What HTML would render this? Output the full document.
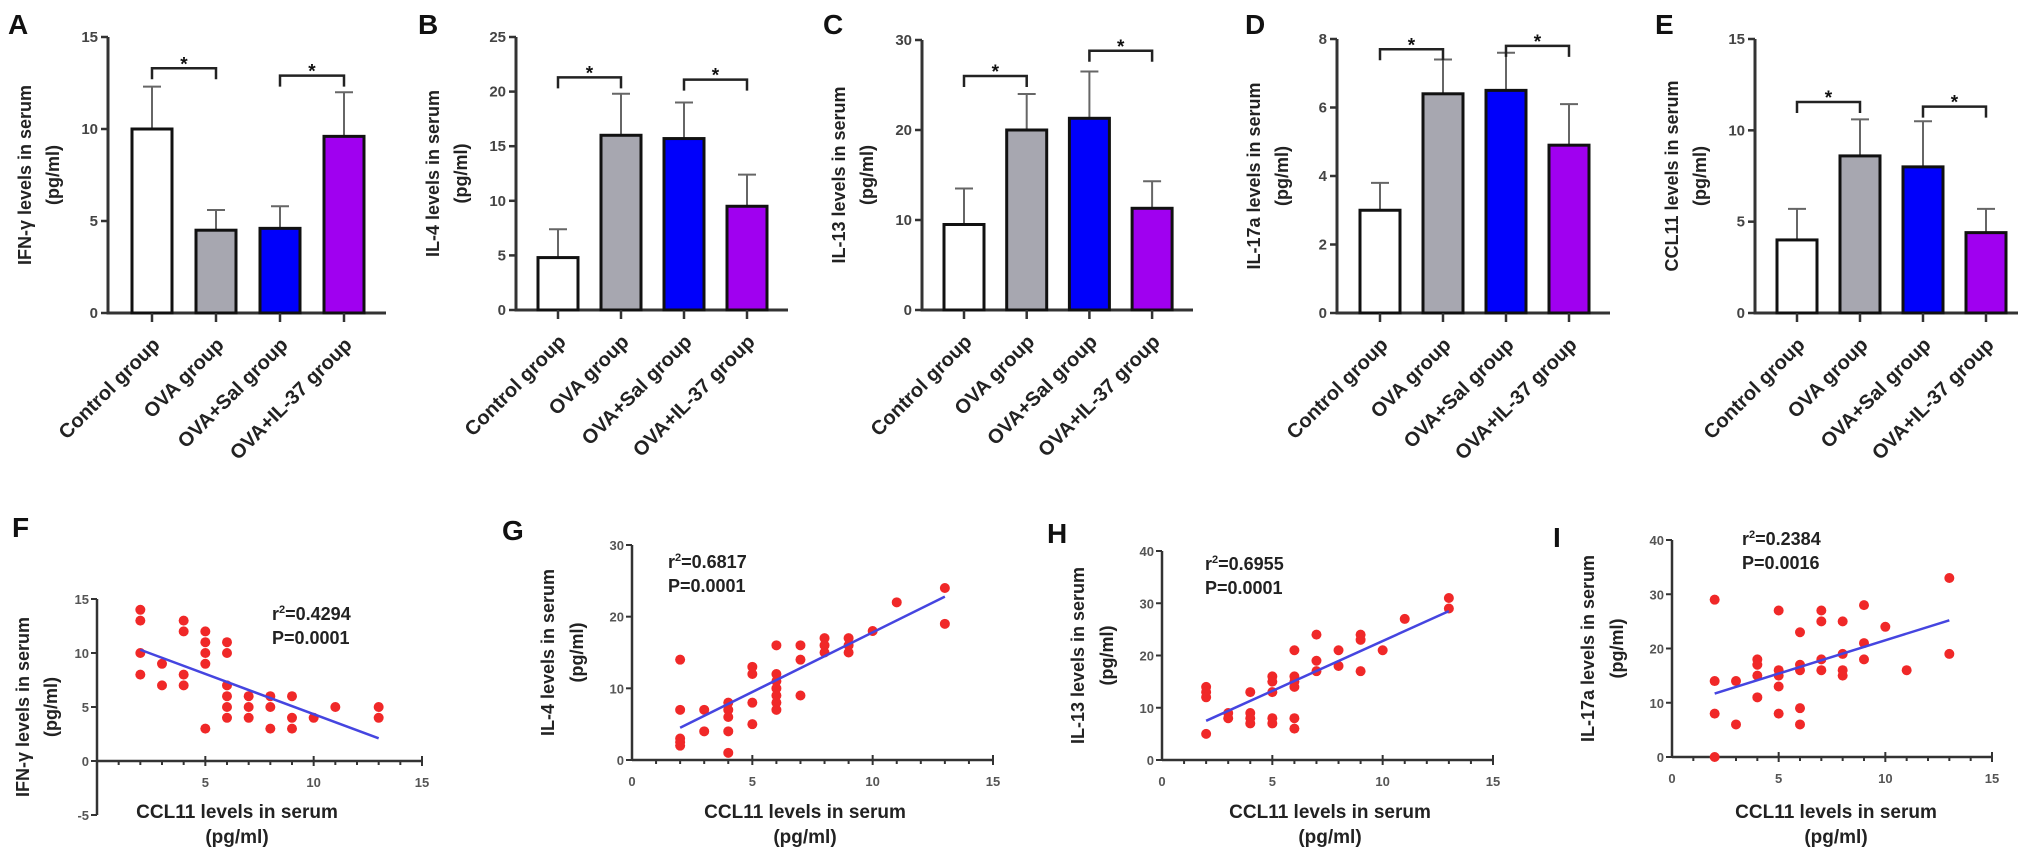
<!DOCTYPE html>
<html><head><meta charset="utf-8">
<style>
html,body{margin:0;padding:0;background:#fff;}
svg{display:block;font-family:"Liberation Sans",Arial,sans-serif;font-weight:bold;}
</style></head>
<body>
<svg id="fig" width="2031" height="863" viewBox="0 0 2031 863" xmlns="http://www.w3.org/2000/svg"></svg>
<script>
// ---------- DATA ----------
const groups = ["Control group","OVA group","OVA+Sal group","OVA+IL-37 group"];
const barColors = ["#ffffff","#a7a7b0","#0000fb","#a000f0"];
const ifnMeans = [10, 4.5, 4.6, 9.6];
const ifnErr   = [12.3, 5.6, 5.8, 12.0];
const il4Means = [4.8, 16, 15.7, 9.5];
const il4Err   = [7.4, 19.8, 19.0, 12.4];
const il13Means = [9.5, 20, 21.3, 11.3];
const il13Err   = [13.5, 24, 26.5, 14.3];
const il17Means = [3.0, 6.4, 6.5, 4.9];
const il17Err   = [3.8, 7.4, 7.6, 6.1];
const cclMeans = [4.0, 8.6, 8.0, 4.4];
const cclErr   = [5.7, 10.6, 10.5, 5.7];
const ticksA = [0,5,10,15];
const ticksB = [0,5,10,15,20,25];
const ticksC = [0,10,20,30];
const ticksD = [0,2,4,6,8];
const ticksE = [0,5,10,15];
const bracketsA = [13.3, 12.9];
const bracketsB = [21.3, 21.1];
const bracketsC = [26.0, 28.8];
const bracketsD = [7.7, 7.8];
const bracketsE = [11.55, 11.3];

const fX = [2,2,2,2,3,3,4,4,4,4,5,5,5,5,5,6,6,6,6,6,6,7,7,7,8,8,8,9,9,9,10,11,13,13];
const fY = [14,13,10,8,9,7,13,12,8,7,12,11,10,9,3,11,10,7,6,5,4,6,5,4,6,5,3,6,4,3,4,5,5,4];
const fLine = [10.3, 2.1];
const gX = [2,2,2,2,2,3,3,4,4,4,4,4,5,5,5,5,6,6,6,6,6,6,6,7,7,7,8,8,8,9,9,9,10,11,13,13];
const gY = [14,7,3,2.5,2,7,4,8,7,6,4,1,13,12,8,5,16,12,11,10,9,8,7,16,14,9,17,16,15,17,16,15,18,22,24,19];
const gLine = [4.5, 22.8];
const hX = [2,2,2,2,3,3,4,4,4,4,5,5,5,5,5,6,6,6,6,6,6,7,7,7,8,8,9,9,9,10,11,13,13];
const hY = [14,13,12,5,9,8,13,9,8,7,16,15,13,8,7,21,16,15,14,8,6,24,19,17,21,18,24,23,17,21,27,31,29];
const hLine = [7.5, 28.5];
const iX = [2,2,2,2,3,3,4,4,4,4,5,5,5,5,5,6,6,6,6,6,7,7,7,7,8,8,8,8,9,9,9,10,11,13,13];
const iY = [29,14,8,0,14,6,18,17,15,11,27,16,15,13,8,23,17,16,9,6,27,25,18,16,25,19,16,15,28,21,18,24,16,33,19];
const iLine = [11.7, 25.2];
const scatterXTicks = [0,5,10,15];
const ticksF = [-5,0,5,10,15];
const ticksG = [0,10,20,30];
const ticksH = [0,10,20,30,40];
const ticksI = [0,10,20,30,40];

// ---------- HELPERS ----------
const NS = "http://www.w3.org/2000/svg";
const svg = document.getElementById("fig");
function mk(tag, attrs, parent, text){
  const e = document.createElementNS(NS, tag);
  for (const k in attrs) e.setAttribute(k, attrs[k]);
  if (text !== undefined) e.textContent = text;
  (parent || svg).appendChild(e);
  return e;
}
const AX = "#333";

function barPanel(cfg){
  const g = mk("g", {});
  
  
  const ymax = cfg.ticks[cfg.ticks.length-1];
  const y = v => cfg.y0 - (v/ymax)*(cfg.y0-cfg.yTop);
  const x = i => cfg.cx0 + i*cfg.step;
  const L = mk("text", {x:cfg.letterX, y:34, "font-size":28, fill:"#111"}, g, cfg.letter);
  
  
  const cy = (cfg.y0+cfg.yTop)/2;
  const t1 = mk("text", {x:0,y:0,"font-size":18,fill:"#222","text-anchor":"middle",transform:`translate(${cfg.ax-77},${cy}) rotate(-90)`}, g, cfg.title);
  
  
  const t2 = mk("text", {x:0,y:0,"font-size":18,fill:"#222","text-anchor":"middle",transform:`translate(${cfg.ax-49},${cy}) rotate(-90)`}, g, "(pg/ml)");
  
  
  const ya = mk("line", {x1:cfg.ax,y1:cfg.yTop,x2:cfg.ax,y2:cfg.y0+1.5,stroke:AX,"stroke-width":3}, g);
  
  
  const xa = mk("line", {x1:cfg.ax-1.5,y1:cfg.y0,x2:cfg.xEnd,y2:cfg.y0,stroke:AX,"stroke-width":3}, g);
  
  
  cfg.ticks.forEach(t => {
    mk("line", {x1:cfg.ax-7,y1:y(t),x2:cfg.ax,y2:y(t),stroke:AX,"stroke-width":2.5}, g);
    const tl = mk("text", {x:cfg.ax-10,y:y(t)+5,"font-size":15,fill:"#444","text-anchor":"end"}, g, String(t));
    
    
  });
  const bw = 40;
  cfg.means.forEach((m,i) => {
    const cx = x(i);
    const eb = mk("line", {x1:cx,y1:y(m),x2:cx,y2:y(cfg.err[i]),stroke:"#666","stroke-width":2}, g);
    
    
    mk("line", {x1:cx-9,y1:y(cfg.err[i]),x2:cx+9,y2:y(cfg.err[i]),stroke:"#666","stroke-width":2}, g);
    const r = mk("rect", {x:cx-bw/2,y:y(m),width:bw,height:cfg.y0-y(m),fill:barColors[i],stroke:"#111","stroke-width":3}, g);
    
    
    mk("line", {x1:cx,y1:cfg.y0,x2:cx,y2:cfg.y0+9,stroke:AX,"stroke-width":2.5}, g);
    const lab = mk("text", {x:0,y:0,"font-size":20,fill:"#222","text-anchor":"end",transform:`translate(${cx+9},${cfg.y0+33}) rotate(-45)`}, g, groups[i]);
    
    
  });
  [[0,1],[2,3]].forEach((p,k) => {
    const by = y(cfg.brackets[k]);
    const x1 = x(p[0]), x2 = x(p[1]);
    const br = mk("path", {d:`M${x1},${by+11} V${by} H${x2} V${by+11}`,fill:"none",stroke:"#222","stroke-width":2.5}, g);
    
    
    const st = mk("text", {x:(x1+x2)/2,y:by+2,"font-size":19,fill:"#111","text-anchor":"middle"}, g, "*");
    
    
  });
}

function scatterPanel(cfg){
  const g = mk("g", {});
  
  
  const ymin = cfg.ticks[0], ymax = cfg.ticks[cfg.ticks.length-1];
  const xs = v => cfg.x0 + (v/15)*(cfg.x15-cfg.x0);
  const ys = v => cfg.yBot - ((v-ymin)/(ymax-ymin))*(cfg.yBot-cfg.yTop);
  const L = mk("text", {x:cfg.letterX,y:cfg.letterY,"font-size":28,fill:"#111"}, g, cfg.letter);
  
  
  const cy = (cfg.yTop+cfg.yBot)/2;
  const t1 = mk("text", {x:0,y:0,"font-size":18,fill:"#222","text-anchor":"middle",transform:`translate(${cfg.x0-cfg.t1off},${cy}) rotate(-90)`}, g, cfg.title);
  
  
  const t2 = mk("text", {x:0,y:0,"font-size":18,fill:"#222","text-anchor":"middle",transform:`translate(${cfg.x0-cfg.t2off},${cy}) rotate(-90)`}, g, "(pg/ml)");
  
  
  const ya = mk("line", {x1:cfg.x0,y1:cfg.yTop,x2:cfg.x0,y2:cfg.yBot,stroke:AX,"stroke-width":2.5}, g);
  
  
  const y0 = ys(0);
  const xa = mk("line", {x1:cfg.x0,y1:y0,x2:cfg.x15,y2:y0,stroke:AX,"stroke-width":2.5}, g);
  
  
  cfg.ticks.forEach(t => {
    mk("line", {x1:cfg.x0-6,y1:ys(t),x2:cfg.x0,y2:ys(t),stroke:AX,"stroke-width":2}, g);
    const tl = mk("text", {x:cfg.x0-8,y:ys(t)+5,"font-size":13,fill:"#555","text-anchor":"end"}, g, String(t));
    
    
  });
  for (let v=1; v<=15; v++){
    const major = v%5===0;
    mk("line", {x1:xs(v),y1:y0-(major?5:0),x2:xs(v),y2:y0+(major?5:4),stroke:AX,"stroke-width":2}, g);
  }
  scatterXTicks.forEach(t => {
    if (t===0 && !cfg.showZero) return;
    const tl = mk("text", {x:xs(t),y:y0+26,"font-size":13,fill:"#555","text-anchor":"middle"}, g, String(t));
    
    
  });
  const xc = cfg.xTitleC;
  const xt = mk("text", {x:xc,y:818,"font-size":19,fill:"#222","text-anchor":"middle"}, g, "CCL11 levels in serum");
  
  
  const xu = mk("text", {x:xc,y:843,"font-size":19,fill:"#222","text-anchor":"middle"}, g, "(pg/ml)");
  
  
  cfg.xv.forEach((xv,i) => {
    const c = mk("circle", {cx:xs(xv),cy:ys(cfg.yv[i]),r:5,fill:"#f02828"}, g);
    
    
  });
  const ln = mk("line", {x1:xs(2),y1:ys(cfg.line[0]),x2:xs(13),y2:ys(cfg.line[1]),stroke:"#4545e0","stroke-width":2.5}, g);
  
  
  const r2 = mk("text", {x:cfg.statX,y:cfg.statY,"font-size":18,fill:"#222"}, g);
  
  
  mk("tspan", {}, r2, "r");
  mk("tspan", {dy:-7,"font-size":11}, r2, "2");
  mk("tspan", {dy:7}, r2, "=" + cfg.r2);
  const pv = mk("text", {x:cfg.statX,y:cfg.statY+24,"font-size":18,fill:"#222"}, g, "P=" + cfg.p);
  
  
}

// ---------- BUILD ----------
barPanel({name:"panel-a-ifn-gamma",letter:"A",letterX:8,ax:108,yTop:37,y0:313,xEnd:386,cx0:152,step:64,ticks:ticksA,means:ifnMeans,err:ifnErr,brackets:bracketsA,title:"IFN-γ levels in serum"});
barPanel({name:"panel-b-il4",letter:"B",letterX:418,ax:516,yTop:37,y0:310,xEnd:788,cx0:558,step:63,ticks:ticksB,means:il4Means,err:il4Err,brackets:bracketsB,title:"IL-4 levels in serum"});
barPanel({name:"panel-c-il13",letter:"C",letterX:823,ax:922,yTop:40,y0:310,xEnd:1193,cx0:964,step:62.7,ticks:ticksC,means:il13Means,err:il13Err,brackets:bracketsC,title:"IL-13 levels in serum"});
barPanel({name:"panel-d-il17a",letter:"D",letterX:1245,ax:1337,yTop:39,y0:313,xEnd:1610,cx0:1380,step:63,ticks:ticksD,means:il17Means,err:il17Err,brackets:bracketsD,title:"IL-17a levels in serum"});
barPanel({name:"panel-e-ccl11",letter:"E",letterX:1655,ax:1755,yTop:39,y0:313,xEnd:2018,cx0:1797,step:63,ticks:ticksE,means:cclMeans,err:cclErr,brackets:bracketsE,title:"CCL11 levels in serum"});

scatterPanel({name:"panel-f-ifn-vs-ccl11",letter:"F",letterX:12,letterY:537,x0:97,x15:422,yTop:599,yBot:815,ticks:ticksF,xv:fX,yv:fY,line:fLine,title:"IFN-γ levels in serum",t1off:68,t2off:40,showZero:false,xTitleC:237,statX:272,statY:620,r2:"0.4294",p:"0.0001"});
scatterPanel({name:"panel-g-il4-vs-ccl11",letter:"G",letterX:502,letterY:540,x0:632,x15:993,yTop:545,yBot:760,ticks:ticksG,xv:gX,yv:gY,line:gLine,title:"IL-4 levels in serum",t1off:78,t2off:49,showZero:true,xTitleC:805,statX:668,statY:568,r2:"0.6817",p:"0.0001"});
scatterPanel({name:"panel-h-il13-vs-ccl11",letter:"H",letterX:1047,letterY:543,x0:1162,x15:1493,yTop:551,yBot:760,ticks:ticksH,xv:hX,yv:hY,line:hLine,title:"IL-13 levels in serum",t1off:78,t2off:49,showZero:true,xTitleC:1330,statX:1205,statY:570,r2:"0.6955",p:"0.0001"});
scatterPanel({name:"panel-i-il17a-vs-ccl11",letter:"I",letterX:1553,letterY:547,x0:1672,x15:1992,yTop:540,yBot:757,ticks:ticksI,xv:iX,yv:iY,line:iLine,title:"IL-17a levels in serum",t1off:78,t2off:49,showZero:true,xTitleC:1836,statX:1742,statY:545,r2:"0.2384",p:"0.0016"});
</script>
</body></html>
